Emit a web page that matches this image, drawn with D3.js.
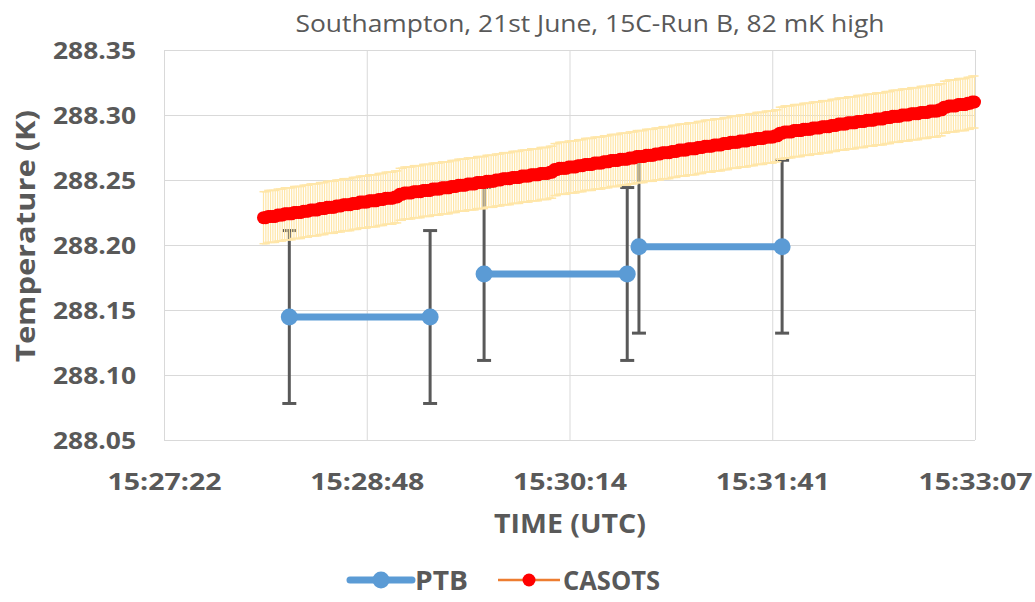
<!DOCTYPE html>
<html><head><meta charset="utf-8">
<script src="https://cdn.jsdelivr.net/npm/d3@7"></script>
<style>body{margin:0;background:#fff} svg{display:block}</style>
</head><body><svg id="c" width="1035" height="602"></svg>
<script>
const chartTitle = "Southampton, 21st June, 15C-Run B, 82 mK high";
const yTitle = "Temperature (K)";
const xTitle = "TIME (UTC)";
const yTicks = [288.05, 288.10, 288.15, 288.20, 288.25, 288.30, 288.35];
const xTickSeconds = [55641.6, 55728.0, 55814.4, 55900.8, 55987.2]; // 0.644..0.648 day
const xTickLabels = ["15:27:22", "15:28:48", "15:30:14", "15:31:41", "15:33:07"];

// PTB: three one-minute averages (start/end share the value)
const ptbStart = ["15:28:15", "15:29:38", "15:30:44"];
const ptbEnd   = ["15:29:15", "15:30:39", "15:31:45"];
const ptbValue = [288.1446, 288.1777, 288.1987];
const ptbUnc = 0.0665;

// CASOTS: one reading per second from casotsStart
const casotsStart = "15:28:04";
const casotsStepSeconds = 1;
const casotsUnc = 0.020;
const casotsValues = [
288.221,288.221,288.222,288.222,288.222,288.222,288.223,288.223,288.223,288.224,
288.224,288.224,288.224,288.225,288.225,288.225,288.225,288.226,288.226,288.226,
288.227,288.227,288.227,288.227,288.228,288.228,288.228,288.229,288.229,288.229,
288.229,288.230,288.230,288.230,288.231,288.231,288.231,288.231,288.232,288.232,
288.232,288.233,288.233,288.233,288.233,288.234,288.234,288.234,288.234,288.235,
288.235,288.235,288.236,288.236,288.236,288.236,288.237,288.237,
288.239,288.239,288.240,288.240,288.240,288.240,288.241,288.241,288.241,288.241,
288.242,288.242,288.242,288.242,288.243,288.243,288.243,288.243,288.244,288.244,
288.244,288.244,288.245,288.245,288.245,288.246,288.246,288.246,288.246,288.247,
288.247,288.247,288.247,288.248,288.248,288.248,288.248,288.249,288.249,288.249,
288.249,288.250,288.250,288.250,288.251,288.251,288.251,288.251,288.252,288.252,
288.252,288.252,288.253,288.253,288.253,288.253,288.254,288.254,288.254,288.254,
288.255,288.255,288.255,288.255,288.256,288.256,
288.258,288.258,288.259,288.259,288.259,288.259,288.260,288.260,288.260,288.260,
288.261,288.261,288.261,288.262,288.262,288.262,288.262,288.263,288.263,288.263,
288.263,288.264,288.264,288.264,288.265,288.265,288.265,288.265,288.266,288.266,
288.266,288.266,288.267,288.267,288.267,288.268,288.268,288.268,288.268,288.269,
288.269,288.269,288.269,288.270,288.270,288.270,288.271,288.271,288.271,288.271,
288.272,288.272,288.272,288.273,288.273,288.273,288.273,288.274,288.274,288.274,
288.274,288.275,288.275,288.275,288.276,288.276,288.276,288.276,288.277,288.277,
288.277,288.277,288.278,288.278,288.278,288.279,288.279,288.279,288.279,288.280,
288.280,288.280,288.280,288.281,288.281,288.281,288.282,288.282,288.282,288.282,
288.283,288.283,288.283,288.283,288.284,288.284,
288.286,288.286,288.287,288.287,288.287,288.287,288.288,288.288,288.288,288.288,
288.289,288.289,288.289,288.289,288.290,288.290,288.290,288.290,288.291,288.291,
288.291,288.291,288.292,288.292,288.292,288.293,288.293,288.293,288.293,288.294,
288.294,288.294,288.294,288.295,288.295,288.295,288.295,288.296,288.296,288.296,
288.296,288.297,288.297,288.297,288.297,288.298,288.298,288.298,288.299,288.299,
288.299,288.299,288.300,288.300,288.300,288.300,288.301,288.301,288.301,288.301,
288.302,288.302,288.302,288.302,288.303,288.303,288.303,288.303,288.304,288.304,
288.306,288.306,288.307,288.307,288.307,288.307,288.308,288.308,288.308,288.308,
288.309,288.309,288.310,288.310
];

const legendNames = ["PTB", "CASOTS"];

// ---------- drawing ----------
const toSec = s => { const [h, m, sec] = s.split(":").map(Number); return h * 3600 + m * 60 + sec; };
const svg = d3.select("#c");
const font = "'Open Sans', 'Liberation Sans', sans-serif";
const textCol = "#595959";
const L = 164, R = 975, T = 50, B = 440;

const x = d3.scaleLinear().domain([xTickSeconds[0], xTickSeconds[xTickSeconds.length - 1]]).range([L, R]);
const y = d3.scaleLinear().domain([yTicks[0], yTicks[yTicks.length - 1]]).range([B, T]);

// title
svg.append("text").attr("x", 590).attr("y", 32).attr("text-anchor", "middle")
  .attr("font-family", font).attr("font-size", 23).attr("fill", textCol)
  .attr("textLength", 589).attr("lengthAdjust", "spacingAndGlyphs").text(chartTitle);

// y axis with gridlines
const yAxis = svg.append("g").attr("transform", `translate(${L},0)`)
  .call(d3.axisLeft(y).tickValues(yTicks).tickFormat(d3.format(".2f")).tickSize(-(R - L)).tickPadding(28));
yAxis.select(".domain").remove();
yAxis.selectAll("line").attr("stroke", "#d9d9d9").attr("stroke-width", 1);
yAxis.selectAll("text").attr("font-family", font).attr("font-size", 24).attr("font-weight", "bold")
  .attr("fill", textCol).attr("dy", "0.36em").attr("textLength", 83).attr("lengthAdjust", "spacingAndGlyphs");

// x axis with gridlines
const xAxis = svg.append("g").attr("transform", `translate(0,${B})`)
  .call(d3.axisBottom(x).tickValues(xTickSeconds).tickFormat((d, i) => xTickLabels[i]).tickSize(-(B - T)).tickPadding(0));
xAxis.select(".domain").remove();
xAxis.selectAll("line").attr("stroke", "#d9d9d9").attr("stroke-width", 1);
xAxis.selectAll("text").attr("font-family", font).attr("font-size", 24).attr("font-weight", "bold")
  .attr("fill", textCol).attr("y", 50).attr("dy", 0).attr("textLength", 114).attr("lengthAdjust", "spacingAndGlyphs");

// axis titles
svg.append("text").attr("transform", "translate(35,236) rotate(-90)").attr("text-anchor", "middle")
  .attr("font-family", font).attr("font-size", 26).attr("font-weight", "bold").attr("fill", textCol)
  .attr("textLength", 252).attr("lengthAdjust", "spacingAndGlyphs").text(yTitle);
svg.append("text").attr("x", 570).attr("y", 533).attr("text-anchor", "middle")
  .attr("font-family", font).attr("font-size", 26).attr("font-weight", "bold").attr("fill", textCol)
  .attr("textLength", 152).attr("lengthAdjust", "spacingAndGlyphs").text(xTitle);

// PTB
const ptbBlue = "#5B9BD5";
const ptbPts = [];
ptbStart.forEach((s, i) => {
  ptbPts.push({ t: toSec(s), v: ptbValue[i] });
  ptbPts.push({ t: toSec(ptbEnd[i]), v: ptbValue[i] });
});
const gP = svg.append("g");
const errP = gP.selectAll("g.e").data(ptbPts).join("g");
errP.append("line").attr("x1", d => x(d.t)).attr("x2", d => x(d.t))
  .attr("y1", d => y(d.v - ptbUnc)).attr("y2", d => y(d.v + ptbUnc))
  .attr("stroke", "#595959").attr("stroke-width", 3);
[-1, 1].forEach(sg => errP.append("line")
  .attr("x1", d => x(d.t) - 7).attr("x2", d => x(d.t) + 7)
  .attr("y1", d => y(d.v + sg * ptbUnc)).attr("y2", d => y(d.v + sg * ptbUnc))
  .attr("stroke", "#595959").attr("stroke-width", 3));
ptbStart.forEach((s, i) => {
  gP.append("line").attr("x1", x(toSec(s))).attr("x2", x(toSec(ptbEnd[i])))
    .attr("y1", y(ptbValue[i])).attr("y2", y(ptbValue[i]))
    .attr("stroke", ptbBlue).attr("stroke-width", 7);
});
gP.selectAll("circle").data(ptbPts).join("circle")
  .attr("cx", d => x(d.t)).attr("cy", d => y(d.v)).attr("r", 8.5).attr("fill", ptbBlue);

// CASOTS
const t0 = toSec(casotsStart);
const cas = casotsValues.map((v, i) => ({ t: t0 + i * casotsStepSeconds, v }));
const gC = svg.append("g");
const errCol = "#FFE6A8";
gC.selectAll("line.v").data(cas).join("line").attr("class", "v")
  .attr("x1", d => x(d.t)).attr("x2", d => x(d.t))
  .attr("y1", d => y(d.v - casotsUnc)).attr("y2", d => y(d.v + casotsUnc))
  .attr("stroke", errCol).attr("stroke-width", 1.2);
[-1, 1].forEach(sg => gC.selectAll("line.c" + sg).data(cas).join("line").attr("class", "c" + sg)
  .attr("x1", d => x(d.t) - 4).attr("x2", d => x(d.t) + 4)
  .attr("y1", d => y(d.v + sg * casotsUnc)).attr("y2", d => y(d.v + sg * casotsUnc))
  .attr("stroke", errCol).attr("stroke-width", 1.5));
gC.append("path").datum(cas)
  .attr("d", d3.line().x(d => x(d.t)).y(d => y(d.v)))
  .attr("fill", "none").attr("stroke", "#ED7D31").attr("stroke-width", 2.25);
gC.selectAll("circle").data(cas).join("circle")
  .attr("cx", d => x(d.t)).attr("cy", d => y(d.v)).attr("r", 6.5).attr("fill", "#FF0000");

// legend
const lg = svg.append("g");
lg.append("line").attr("x1", 350).attr("x2", 412).attr("y1", 580).attr("y2", 580)
  .attr("stroke", ptbBlue).attr("stroke-width", 7).attr("stroke-linecap", "round");
lg.append("circle").attr("cx", 381).attr("cy", 580).attr("r", 8.5).attr("fill", ptbBlue);
lg.append("text").attr("x", 415).attr("y", 590).attr("font-family", font).attr("font-size", 27)
  .attr("font-weight", "bold").attr("fill", textCol).attr("textLength", 53).attr("lengthAdjust", "spacingAndGlyphs").text(legendNames[0]);
lg.append("line").attr("x1", 498).attr("x2", 560).attr("y1", 580).attr("y2", 580)
  .attr("stroke", "#ED7D31").attr("stroke-width", 2.5);
lg.append("circle").attr("cx", 529).attr("cy", 580).attr("r", 6.5).attr("fill", "#FF0000");
lg.append("text").attr("x", 563).attr("y", 590).attr("font-family", font).attr("font-size", 27)
  .attr("font-weight", "bold").attr("fill", textCol).attr("textLength", 97).attr("lengthAdjust", "spacingAndGlyphs").text(legendNames[1]);
</script>
</body></html>
